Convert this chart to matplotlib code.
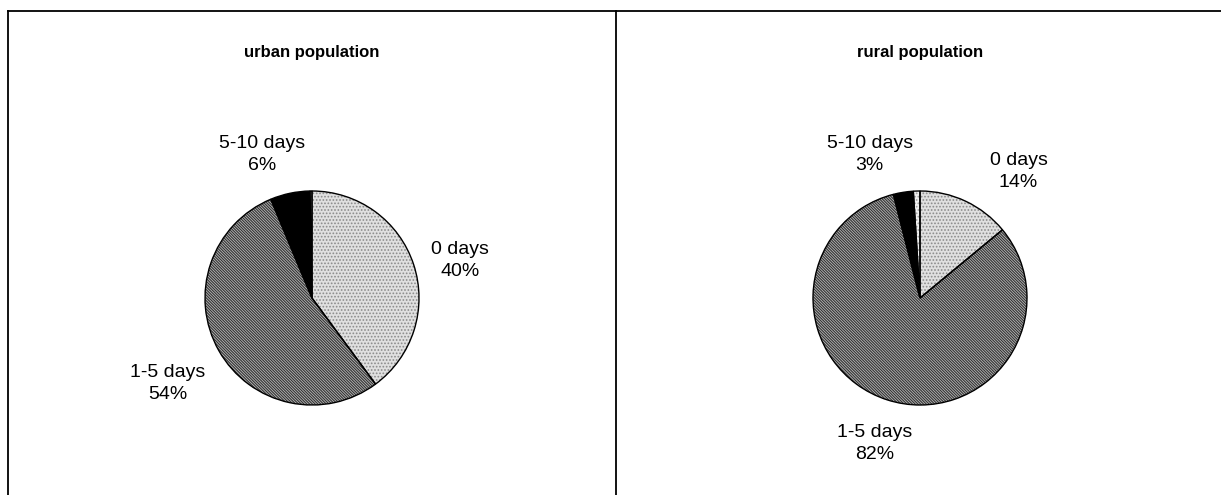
import matplotlib
matplotlib.use('Agg')
import matplotlib.pyplot as plt
from matplotlib.lines import Line2D

plt.rcParams['font.family'] = ['Liberation Sans', 'DejaVu Sans']
plt.rcParams['hatch.linewidth'] = 0.8

# ── data ──────────────────────────────────────────────────────────────────────
categories = ["0 days", "1-5 days", "5-10 days", ">10 days"]
urban = [40, 54, 6, 0.3]
rural = [14, 82, 3, 1]
titles = ["urban population", "rural population"]
shown = [True, True, True, False]   # last slice has no label

# ── styles ────────────────────────────────────────────────────────────────────
faces   = ["#e0e0e0", "#b8b8b8", "black", "#f2f2f2"]
hatches = [".....", "\\" * 12, None, "....."]
hcolors = ["#8a8a8a", "#333333", "black", "#a0a0a0"]

W, H, DPI = 1221, 495, 100
R = 107                     # pie radius in px
PANEL_X = [8, 616]          # left edges of the two panels
PANEL_W = 608
CY = 298                    # pie centre, px from top
TITLE_Y = 52

# label positions (in pie-radius units relative to centre)
label_pos = [
    [(1.38, 0.35), (-1.35, -0.80), (-0.47, 1.34), None],
    [(0.92, 1.18), (-0.42, -1.36), (-0.47, 1.34), None],
]

fig = plt.figure(figsize=(W / DPI, H / DPI), dpi=DPI)

for k, (vals, title) in enumerate(zip([urban, rural], titles)):
    x0 = PANEL_X[k]
    ax = fig.add_axes([x0 / W, 0, PANEL_W / W, 1])
    # hatched fill, hatch colour comes from edgecolor
    wedges, _ = ax.pie(vals, startangle=90, counterclock=False,
                       colors=faces, radius=1,
                       wedgeprops=dict(linewidth=0))
    for w, h, hc in zip(wedges, hatches, hcolors):
        w.set_edgecolor(hc)
        if h:
            w.set_hatch(h)
    # black outlines on top
    ax.pie(vals, startangle=90, counterclock=False, radius=1,
           wedgeprops=dict(fill=False, edgecolor="black", linewidth=1.0))

    total = sum(vals)
    for i, (cat, v) in enumerate(zip(categories, vals)):
        if not shown[i]:
            continue
        px, py = label_pos[k][i]
        ax.text(px, py, f"{cat}\n{round(v / total * 100):.0f}%",
                ha="center", va="center", fontsize=14, linespacing=1.4)

    cx = (PANEL_W / 2) / R
    ax.set_xlim(-cx, cx)
    ax.set_ylim(-(H - CY) / R, CY / R)
    ax.set_aspect('auto')
    ax.axis('off')
    ax.text(0, (CY - TITLE_Y) / R, title, ha="center", va="center",
            fontsize=12, fontweight="bold")

# panel frame lines
top = 1 - 11 / H
fig.add_artist(Line2D([PANEL_X[0] / W, 1], [top, top], color="black", lw=1.3,
                      transform=fig.transFigure))
for xp in PANEL_X:
    fig.add_artist(Line2D([xp / W] * 2, [0, top], color="black", lw=1.3,
                          transform=fig.transFigure))

plt.savefig("out.png", dpi=DPI)
plt.close()
